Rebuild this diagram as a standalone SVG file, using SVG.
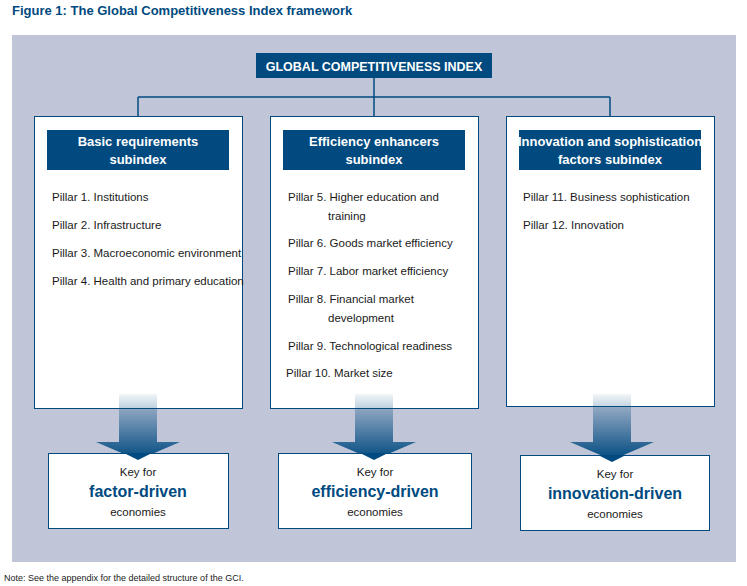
<svg xmlns="http://www.w3.org/2000/svg" width="747" height="586" viewBox="0 0 747 586">
<defs>
<style>
.t{font-family:"Liberation Sans Narrow","Liberation Sans",Arial,sans-serif;}
.hd{fill:#004a80;}
.ht{fill:#fff;font-size:13px;font-weight:bold;text-anchor:middle;font-stretch:condensed;}
.p{fill:#1a1a1a;font-size:11.5px;}
.col{fill:#fff;stroke:#004a80;stroke-width:1;}
.k{fill:#1a1a1a;font-size:11.5px;text-anchor:middle;}
.kb{fill:#004a80;font-size:16px;font-weight:bold;text-anchor:middle;}
</style>
<linearGradient id="g" x1="0" y1="0" x2="0" y2="1">
<stop offset="0" stop-color="#004a80" stop-opacity="0.05"/>
<stop offset="1" stop-color="#004a80"/>
</linearGradient>
<path id="arr" d="M-19,0 H19 V48 H42 L0,66 L-42,48 H-19 Z"/>
</defs>
<rect width="747" height="586" fill="#fff"/>
<text x="12" y="15" class="t" font-size="13" font-weight="bold" fill="#004a80" style="font-family:'Liberation Sans',Arial,sans-serif">Figure 1: The Global Competitiveness Index framework</text>
<rect x="12" y="35" width="724" height="527" fill="#c0c6d8"/>
<g id="connectors" stroke="#004a80" stroke-width="1.5" fill="none">
<path d="M374,78 V116 M138,97 H610 M138,97 V116 M610,97 V116"/>
</g>
<g id="gci">
<rect x="256" y="53" width="236" height="25" class="hd"/>
<text x="374" y="71" class="t" fill="#fff" font-size="12.5" font-weight="bold" text-anchor="middle" style="font-family:'Liberation Sans',Arial,sans-serif">GLOBAL COMPETITIVENESS INDEX</text>
</g>
<g id="basic">
<rect x="34.5" y="116.5" width="208" height="292" class="col"/>
<rect x="47" y="130" width="182" height="40" class="hd"/>
<text x="138" y="146" class="t ht">Basic requirements</text>
<text x="138" y="164" class="t ht">subindex</text>
<text x="52" y="201" class="t p">Pillar 1. Institutions</text>
<text x="52" y="229" class="t p">Pillar 2. Infrastructure</text>
<text x="52" y="257" class="t p">Pillar 3. Macroeconomic environment</text>
<text x="52" y="285" class="t p">Pillar 4. Health and primary education</text>
</g>
<g id="efficiency">
<rect x="270.5" y="116.5" width="208" height="292" class="col"/>
<rect x="283" y="130" width="182" height="40" class="hd"/>
<text x="374" y="146" class="t ht">Efficiency enhancers</text>
<text x="374" y="164" class="t ht">subindex</text>
<text x="288" y="201" class="t p">Pillar 5. Higher education and</text>
<text x="328" y="220" class="t p">training</text>
<text x="288" y="247" class="t p">Pillar 6. Goods market efficiency</text>
<text x="288" y="275" class="t p">Pillar 7. Labor market efficiency</text>
<text x="288" y="303" class="t p">Pillar 8. Financial market</text>
<text x="328" y="322" class="t p">development</text>
<text x="288" y="350" class="t p">Pillar 9. Technological readiness</text>
<text x="286" y="377" class="t p">Pillar 10. Market size</text>
</g>
<g id="innovation">
<rect x="506.5" y="116.5" width="208" height="290" class="col"/>
<rect x="519" y="130" width="182" height="40" class="hd"/>
<text x="610" y="146" class="t ht">Innovation and sophistication</text>
<text x="610" y="164" class="t ht">factors subindex</text>
<text x="523" y="201" class="t p">Pillar 11. Business sophistication</text>
<text x="523" y="229" class="t p">Pillar 12. Innovation</text>
</g>
<g id="arrows" fill="url(#g)">
<use href="#arr" x="138" y="394"/>
<use href="#arr" x="374" y="394"/>
<use href="#arr" x="612" y="394"/>
</g>
<g id="key-factor">
<rect x="48.5" y="453.5" width="180" height="75" class="col"/>
<use href="#arr" x="138" y="394" fill="url(#g)" clip-path="none" opacity="0"/>
<text x="138" y="476" class="t k">Key for</text>
<text x="138" y="497" class="t kb">factor-driven</text>
<text x="138" y="516" class="t k">economies</text>
</g>
<g id="key-efficiency">
<rect x="278.5" y="453.5" width="193" height="75" class="col"/>
<text x="375" y="476" class="t k">Key for</text>
<text x="375" y="497" class="t kb">efficiency-driven</text>
<text x="375" y="516" class="t k">economies</text>
</g>
<g id="key-innovation">
<rect x="520.5" y="455.5" width="189" height="75" class="col"/>
<text x="615" y="478" class="t k">Key for</text>
<text x="615" y="499" class="t kb">innovation-driven</text>
<text x="615" y="518" class="t k">economies</text>
</g>
<g id="arrowtips" fill="#004a80">
<path d="M124,453 L138,460 L152,453 Z M360,453 L374,460 L388,453 Z M598,455 L612,462 L626,455 Z"/>
</g>
<text x="4" y="581" class="t" font-size="9" fill="#1a1a1a">Note: See the appendix for the detailed structure of the GCI.</text>
</svg>
